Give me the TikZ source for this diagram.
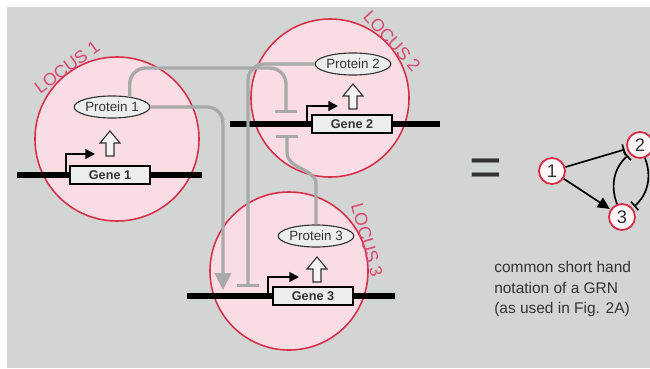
\documentclass[tikz,border=0pt]{standalone}
\usepackage{fontspec}
\setmainfont{Liberation Sans}
\usetikzlibrary{arrows.meta,shapes.geometric}

\definecolor{bggray}{HTML}{D3D4D4}
\definecolor{locusfill}{HTML}{FADCE4}
\definecolor{locusline}{HTML}{D72E48}
\definecolor{locustext}{HTML}{DE4670}
\definecolor{siggray}{HTML}{A8A9A9}
\definecolor{genefill}{HTML}{ECEEEE}
\definecolor{inkgray}{HTML}{333333}

\begin{document}
\begin{tikzpicture}[
  locus/.style    = {circle, draw=locusline, fill=locusfill, line width=1.1pt, minimum size=#1, inner sep=0pt},
  locuslbl/.style = {text=locustext, font=\fontsize{12.5}{12.5}\selectfont, inner sep=0pt},
  dna/.style      = {line width=4.2pt},
  gene/.style     = {draw, fill=genefill, line width=1pt, minimum width=2cm, minimum height=0.45cm, inner sep=0pt, text=inkgray, font=\bfseries\fontsize{9}{9}\selectfont},
  protein/.style  = {ellipse, draw=inkgray, fill=genefill, line width=0.8pt, minimum width=1.58cm, minimum height=0.55cm, inner sep=0pt, text=inkgray, font=\fontsize{9.5}{9.5}\selectfont},
  upflow/.style   = {draw=inkgray, fill=white!92!gray, line width=0.8pt},
  promoter/.style = {-{Triangle[length=2.4mm,width=2.4mm]}, line width=1.4pt},
  act/.style      = {-{Triangle[length=4.2mm,width=4mm]}, siggray, line width=2.4pt, rounded corners=4mm},
  inh/.style      = {-{Bar[width=5.5mm]}, siggray, line width=2.4pt, rounded corners=4mm},
  grn/.style      = {circle, draw=locusline, fill=white!80!locusfill, line width=1.3pt, minimum size=0.65cm, inner sep=0pt, text=inkgray, font=\fontsize{13}{13}\selectfont},
  grnact/.style   = {-{Triangle[length=3mm,width=2.8mm]}, line width=1.2pt, shorten >=0.5pt},
  grninh/.style   = {-{Bar[width=2.8mm]}, line width=1.2pt, shorten >=1.5pt},
  x=0.025cm, y=-0.025cm,
]

  \useasboundingbox (0,0) rectangle (650,368);
  \fill[white] (0,0) rectangle (650,368);
  \fill[bggray] (7,7) rectangle (650,368);

  % the three loci
  \node[locus=4.1cm]  (l1) at (117,139) {};
  \node[locus=3.95cm] (l2) at (330,98) {};
  \node[locus=3.95cm] (l3) at (289,271) {};
  \node[locuslbl, rotate=36]  (t1) at (67,67)   {LOCUS 1};
  \node[locuslbl, rotate=-48] (t2) at (392,41)  {LOCUS 2};
  \node[locuslbl, rotate=-74] (t3) at (367,240) {LOCUS 3};

  \draw[dna] (17,175) -- (202,175);
  \draw[dna] (230,124) -- (440,124);
  \draw[dna] (187,296) -- (395,296);

  \node[gene] (g1) at (110,175) {Gene 1};
  \node[gene] (g2) at (352,124) {Gene 2};
  \node[gene] (g3) at (313,296) {Gene 3};

  \coordinate (tss1) at (66,175);
  \coordinate (tss2) at (307,124);
  \coordinate (tss3) at (268,296);
  \draw[promoter] (tss1) |- (95,154);
  \draw[promoter] (tss2) |- (338,106);
  \draw[promoter] (tss3) |- (299,277);

  % gene -> protein
  \coordinate (a1) at (110,144);
  \coordinate (a2) at (353,97);
  \coordinate (a3) at (317,270);
  \foreach \a in {a1,a2,a3}
    \draw[upflow] (\a) ++(-4,12) -- ++(0,-13) -- ++(-6,0) -- ++(10,-12) -- ++(10,12) -- ++(-6,0) -- ++(0,13) -- cycle;

  \node[protein] (p1) at (112,107) {Protein 1};
  \node[protein] (p2) at (353,64)  {Protein 2};
  \node[protein] (p3) at (316,236) {Protein 3};

  % regulation between the loci
  \coordinate (bA) at (286,113);
  \coordinate (bC) at (248,287);
  \coordinate (bD) at (287,135);
  \coordinate (tB) at (223,290);
  \draw[inh] (p1.30) |- (286,68) -- (bA);
  \draw[act] (p1.east) -| (tB);
  \draw[inh] (p2.west) -| (bC);
  \draw[inh, sharp corners] (p3.north) -- (316,184) .. controls (316,168) and (287,170) .. (287,152) -- (bD);

  % short hand
  \node[text=inkgray, font=\fontsize{40}{40}\selectfont] (eq) at (486,173) {=};
  \node[grn] (n1) at (552,171) {1};
  \node[grn] (n2) at (640,145) {2};
  \node[grn] (n3) at (622,217) {3};
  \draw[grninh] (n1) -- (n2);
  \draw[grnact] (n1) -- (n3);
  \draw[grninh] (n3) to[bend left=35] (n2);
  \draw[grninh] (n2) to[bend left=35] (n3);

  \node[anchor=north west, align=left, inner sep=0pt, text=inkgray, font=\fontsize{11}{14.6}\selectfont] (cap) at (494,261)
    {common short hand\\notation of a GRN\\(as used in Fig. 2A)};
\end{tikzpicture}
\end{document}
